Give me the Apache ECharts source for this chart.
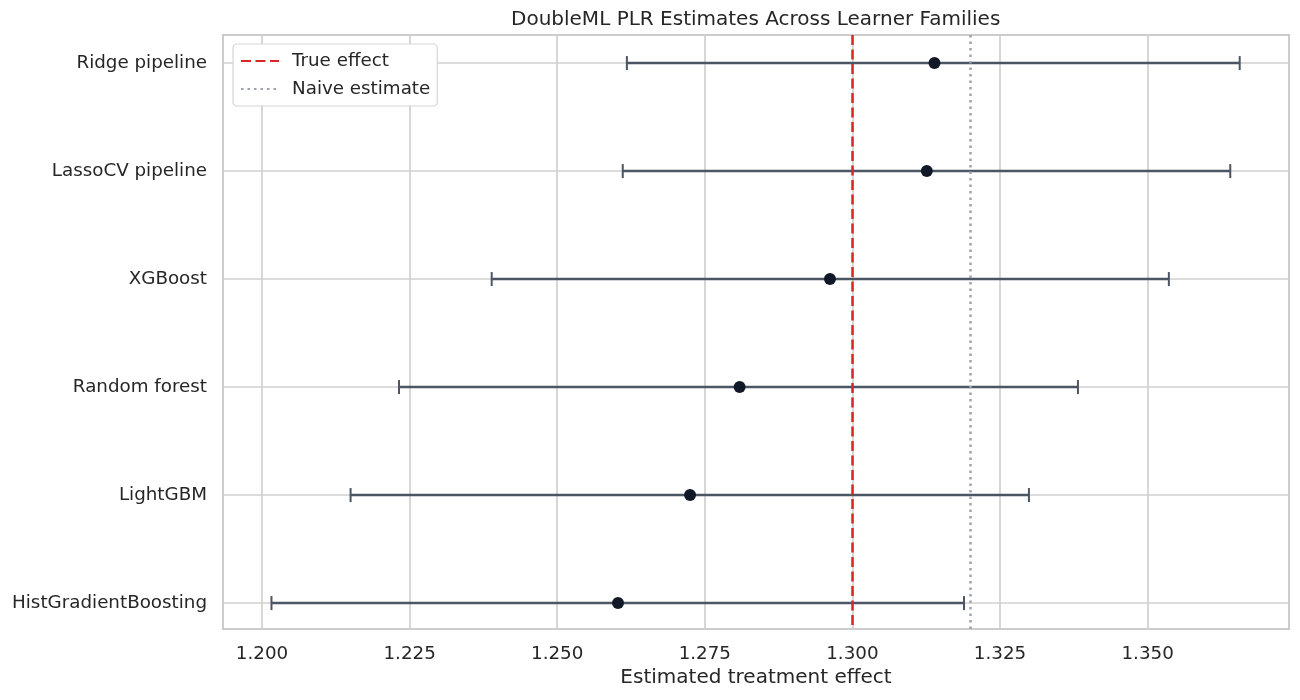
<!DOCTYPE html>
<html>
<head>
<meta charset="utf-8">
<script src="https://cdn.jsdelivr.net/npm/echarts@6/dist/echarts.min.js"></script>
<style>
  html, body { margin: 0; padding: 0; background: #ffffff; }
  #chart { width: 1300px; height: 700px; }
</style>
</head>
<body>
<div id="chart"></div>
<script>
// learners top to bottom, with point estimate and CI bounds
var learners = ['Ridge pipeline', 'LassoCV pipeline', 'XGBoost', 'Random forest', 'LightGBM', 'HistGradientBoosting'];
var estimates = [1.3139, 1.3126, 1.2962, 1.2809, 1.2725, 1.2603];
var ciLower = [1.2618, 1.2611, 1.2389, 1.2232, 1.2150, 1.2016];
var ciUpper = [1.3656, 1.3640, 1.3536, 1.3382, 1.3299, 1.3189];
var xTicks = [1.200, 1.225, 1.250, 1.275, 1.300, 1.325, 1.350];
var trueEffect = 1.300;
var naiveEstimate = 1.3193;

(function() {
  var ink = '#262626';
  var gridColor = '#d0d0d0';
  var barColor = '#4b5563';
  var dotColor = '#111827';
  var font = '"DejaVu Sans", sans-serif';

  var pointData = estimates.map(function(v, i) { return [v, i]; });
  var barData = ciLower.map(function(lo, i) { return [lo, ciUpper[i], i]; });
  var yIdx = learners.map(function(_, i) { return i; });

  var chart = echarts.init(document.getElementById('chart'), null, { renderer: 'canvas' });
  chart.setOption({
    animation: false,
    backgroundColor: '#ffffff',
    textStyle: { fontFamily: font },
    title: {
      text: 'DoubleML PLR Estimates Across Learner Families',
      left: 511,
      top: 10,
      padding: 0,
      textStyle: { color: ink, fontSize: 20, fontWeight: 'normal', fontFamily: font }
    },
    legend: {
      orient: 'vertical',
      left: 233,
      top: 44,
      padding: [6, 7, 6, 7],
      itemGap: 6,
      itemWidth: 38,
      itemHeight: 14,
      backgroundColor: '#ffffff',
      borderColor: '#d6d6d6',
      borderWidth: 1.2,
      borderRadius: 4,
      itemStyle: { opacity: 0 },
      textStyle: { color: ink, fontSize: 18.3, lineHeight: 22, fontFamily: font, padding: [0, 0, 0, 8] },
      data: ['True effect', 'Naive estimate']
    },
    grid: { left: 223, right: 11, top: 35, bottom: 71, show: true, borderColor: '#cccccc', borderWidth: 2, containLabel: false },
    xAxis: {
      type: 'value',
      min: 1.19339,
      max: 1.37395,
      name: 'Estimated treatment effect',
      nameLocation: 'middle',
      nameGap: 39,
      nameTextStyle: { color: ink, fontSize: 20, fontFamily: font },
      axisLine: { show: false },
      axisTick: { show: false, customValues: xTicks },
      axisLabel: {
        customValues: xTicks,
        color: ink, fontSize: 18.3, margin: 16, fontFamily: font,
        formatter: function(v) { return v.toFixed(3); }
      },
      splitLine: { show: true, lineStyle: { color: gridColor, width: 1.7 } }
    },
    yAxis: {
      type: 'value',
      min: -0.26,
      max: 5.24,
      inverse: true,
      axisLine: { show: false },
      axisTick: { show: false, customValues: yIdx },
      axisLabel: {
        customValues: yIdx,
        color: ink, fontSize: 18.3, margin: 16, fontFamily: font,
        formatter: function(v) { return learners[Math.round(v)] || ''; }
      },
      splitLine: { show: true, lineStyle: { color: gridColor, width: 1.7 } }
    },
    series: [
      {
        name: 'True effect',
        type: 'line',
        data: [],
        symbol: 'none',
        itemStyle: { color: '#dc2626' },
        lineStyle: { color: '#dc2626', width: 2.5, type: [10, 4.5] },
        markLine: {
          silent: true,
          symbol: 'none',
          label: { show: false },
          lineStyle: { color: '#dc2626', width: 2.5, type: [10, 4.5] },
          data: [{ xAxis: trueEffect }]
        },
        z: 3
      },
      {
        name: 'Naive estimate',
        type: 'line',
        data: [],
        symbol: 'none',
        itemStyle: { color: '#9ca3af' },
        lineStyle: { color: '#9ca3af', width: 2.5, type: [2.5, 4] },
        markLine: {
          silent: true,
          symbol: 'none',
          label: { show: false },
          lineStyle: { color: '#9ca3af', width: 2.5, type: [2.5, 4] },
          data: [{ xAxis: naiveEstimate }]
        },
        z: 3
      },
      {
        name: 'CI',
        type: 'custom',
        data: barData,
        encode: { x: [0, 1], y: 2 },
        renderItem: function(params, api) {
          var idx = api.value(2);
          var p0 = api.coord([api.value(0), idx]);
          var p1 = api.coord([api.value(1), idx]);
          var cap = 7;
          var style = { stroke: barColor, lineWidth: 2.5 };
          return {
            type: 'group',
            children: [
              { type: 'line', shape: { x1: p0[0], y1: p0[1], x2: p1[0], y2: p1[1] }, style: style },
              { type: 'line', shape: { x1: p0[0], y1: p0[1] - cap, x2: p0[0], y2: p0[1] + cap }, style: { stroke: barColor, lineWidth: 2 } },
              { type: 'line', shape: { x1: p1[0], y1: p1[1] - cap, x2: p1[0], y2: p1[1] + cap }, style: { stroke: barColor, lineWidth: 2 } }
            ]
          };
        },
        z: 4
      },
      {
        name: 'Estimate',
        type: 'scatter',
        data: pointData,
        symbol: 'circle',
        symbolSize: 12,
        itemStyle: { color: dotColor, opacity: 1 },
        z: 5
      }
    ]
  });
  window.addEventListener('resize', function() { chart.resize(); });
})();
</script>
</body>
</html>
